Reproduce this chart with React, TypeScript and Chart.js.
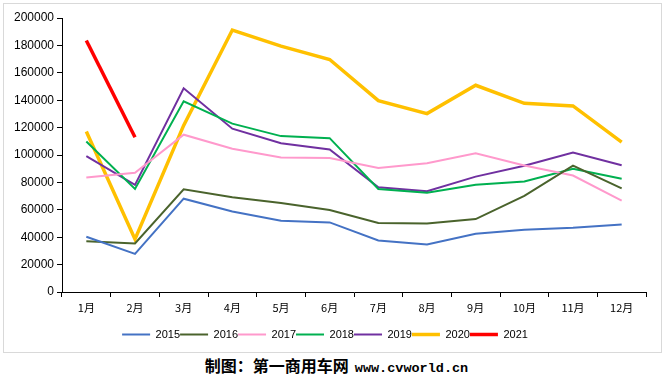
import React, { useEffect, useRef } from "react";
import { Chart, registerables } from "chart.js";

Chart.register(...registerables);

const months = ["1月", "2月", "3月", "4月", "5月", "6月", "7月", "8月", "9月", "10月", "11月", "12月"];
const years = ["2015", "2016", "2017", "2018", "2019", "2020", "2021"];
const s2015 = [40300, 27800, 68100, 58800, 52000, 50800, 37600, 34700, 42500, 45400, 46900, 49300];
const s2016 = [37100, 35400, 75000, 69100, 65000, 59800, 50300, 50000, 53200, 70100, 92300, 75700];
const s2017 = [83500, 87000, 114800, 104500, 98200, 97800, 90600, 94000, 101300, 92300, 85000, 66700];
const s2018 = [109900, 75200, 139200, 122900, 113800, 112300, 75200, 72500, 78200, 80600, 89900, 82600];
const s2019 = [99100, 78200, 148700, 119200, 108600, 104000, 76400, 73500, 84200, 92100, 101800, 92500];
const s2020 = [117200, 38600, 121600, 191200, 179500, 169700, 139700, 130200, 150900, 137700, 135800, 109400];
const s2021 = [183600, 113000, null, null, null, null, null, null, null, null, null, null];
const yTickValues = [0, 20000, 40000, 60000, 80000, 100000, 120000, 140000, 160000, 180000, 200000];
const creditText = "制图：第一商用车网";
const creditUrl = "www.cvworld.cn";

const seriesList = [s2015, s2016, s2017, s2018, s2019, s2020, s2021];
const colors = ["#4472C4", "#4A632C", "#FF99CC", "#00B050", "#7030A0", "#FFC000", "#FF0000"];
const widths = [2, 2, 2, 2, 2, 3.5, 3.5];

export default function App() {
  const ref = useRef<HTMLCanvasElement>(null);
  useEffect(() => {
    const canvas = ref.current;
    if (!canvas) return;
    const chart = new Chart(canvas, {
      type: "line",
      data: {
        labels: months,
        datasets: years.map((y, i) => ({
          label: y,
          data: seriesList[i],
          borderColor: colors[i],
          backgroundColor: colors[i],
          borderWidth: widths[i],
          pointRadius: 0,
          pointHoverRadius: 0,
          tension: 0,
          fill: false,
          spanGaps: false,
        })),
      },
      options: {
        animation: false,
        responsive: false,
        devicePixelRatio: 1,
        layout: { padding: { left: 0, right: 15, top: 14, bottom: 2 } },
        plugins: {
          tooltip: { enabled: false },
          legend: {
            position: "bottom",
            labels: {
              usePointStyle: true,
              pointStyle: "line",
              pointStyleWidth: 28,
              padding: 0,
              color: "#000",
              font: { family: "'Liberation Sans', Arial, sans-serif", size: 11 },
            },
          },
        },
        scales: {
          x: {
            offset: true,
            grid: {
              offset: true,
              drawOnChartArea: false,
              drawTicks: true,
              tickLength: 5,
              color: "#000",
              tickColor: "#000",
            },
            border: { color: "#000", width: 1 },
            ticks: {
              color: "#000",
              padding: 4,
              maxRotation: 0,
              autoSkip: false,
              font: { family: "'Noto Sans CJK SC', sans-serif", size: 11 },
            },
            afterFit: (s: any) => {
              s.height = 37;
            },
          },
          y: {
            min: 0,
            max: 200000,
            afterBuildTicks: (s: any) => {
              s.ticks = yTickValues.map((v) => ({ value: v }));
            },
            grid: {
              drawOnChartArea: false,
              drawTicks: true,
              tickLength: 5,
              color: "#000",
              tickColor: "#000",
            },
            border: { color: "#000", width: 1 },
            ticks: {
              color: "#000",
              padding: 3,
              font: { family: "'Liberation Sans', Arial, sans-serif", size: 12 },
              callback: (v: any) => String(v),
            },
            afterFit: (s: any) => {
              s.width = 58;
            },
          },
        },
      },
    });
    return () => chart.destroy();
  }, []);

  return (
    <div style={{ position: "absolute", left: 0, top: 0, width: 665, height: 379, background: "#fff" }}>
      <div
        style={{
          position: "absolute",
          left: 3,
          top: 3,
          width: 657,
          height: 348,
          border: "1px solid #D9D9D9",
        }}
      >
        <canvas ref={ref} width={657} height={348} style={{ width: 657, height: 348, display: "block" }} />
      </div>
      <div
        style={{
          position: "absolute",
          left: 4,
          top: 356,
          width: 665,
          textAlign: "center",
          fontWeight: "bold",
          fontSize: 16,
          lineHeight: "18px",
          fontFamily: "'Noto Sans CJK SC', sans-serif",
          color: "#000",
          whiteSpace: "nowrap",
        }}
      >
        {creditText}
        <span style={{ fontFamily: "'Liberation Mono', monospace", fontSize: 13.5, marginLeft: 6 }}>{creditUrl}</span>
      </div>
    </div>
  );
}
